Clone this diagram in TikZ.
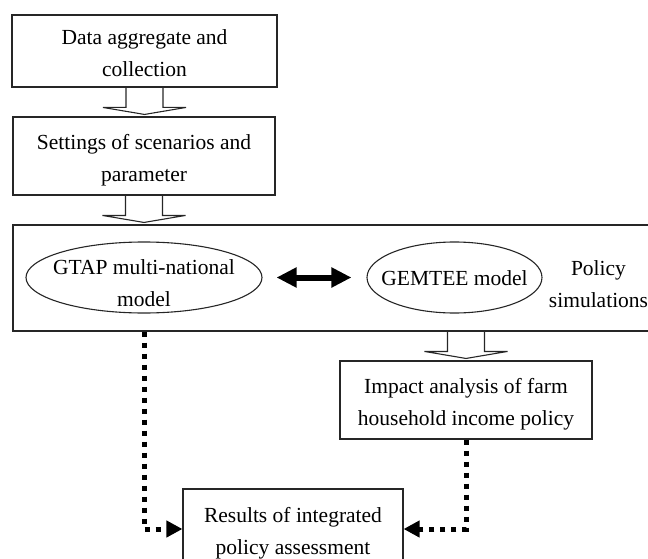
\documentclass[tikz,border=0pt]{standalone}
\usepackage{fontspec}
\setmainfont{Liberation Serif}
\usetikzlibrary{shapes.geometric,arrows.meta,calc}

\tikzset{
  box/.style={draw=black!85, line width=1.1pt, rectangle, align=center, inner sep=0pt,
    font=\fontsize{21.5pt}{32pt}\selectfont, text height=55pt, text depth=4.6pt},
  model/.style={draw=black!85, line width=1.1pt, ellipse, align=center, inner sep=-20pt,
    font=\fontsize{21.5pt}{32pt}\selectfont},
  hollow/.style={draw=black!85, line width=1.1pt, line join=miter},
  dotline/.style={line width=5pt, dash pattern=on 5pt off 6pt,
    -{Triangle[length=16pt,width=16pt]}},
  biarrow/.style={line width=6pt, {Triangle[length=20pt,width=19pt]}-{Triangle[length=20pt,width=19pt]},
    shorten <=14pt, shorten >=15pt}
}

% open block arrow going down from #1 to #2
\newcommand{\hollowarrow}[2]{%
  \draw[hollow] let \p1=#1, \p2=#2 in
    (\x1-18.5pt,\y1) -- (\x1-18.5pt,\y2+9pt) -- (\x1-41.5pt,\y2+9pt)
    -- (\x1,\y2+2pt) -- (\x1+41.5pt,\y2+9pt) -- (\x1+18.5pt,\y2+9pt)
    -- (\x1+18.5pt,\y1);}

\begin{document}
\begin{tikzpicture}[x=1pt,y=-1pt]
\useasboundingbox (0,0) rectangle (648,559);

%steps
\node[box, minimum width=265pt, minimum height=72pt] (data) at (144.5,51) {Data aggregate and\\collection};
\node[box, minimum width=262pt, minimum height=78pt] (setting) at (144,156) {Settings of scenarios and\\parameter};

%simulation block
\node[box, minimum width=650pt, minimum height=106pt, text height=0pt, text depth=0pt] (sim) at (338,278) {};
\node[model, minimum width=236pt, minimum height=71pt, text height=62pt, text depth=4.6pt] (gtap) at (144,277.5) {GTAP multi-national\\model};
\node[model, minimum width=175pt, minimum height=71pt, text height=20pt, text depth=4.6pt] (gemtee) at (454.5,277.5) {GEMTEE model};
\node[align=center, font=\fontsize{21.5pt}{32pt}\selectfont] (policy) at (598.5,284) {Policy\\simulations};
\draw[biarrow] (gtap) -- (gemtee);

%outputs
\node[box, minimum width=252pt, minimum height=78pt] (impact) at (466,400) {Impact analysis of farm\\household income policy};
\node[box, minimum width=220pt, minimum height=80pt] (results) at (293,529) {Results of integrated\\policy assessment};

\hollowarrow{(data.south)}{(setting.north)}
\hollowarrow{(setting.south)}{(setting.south |- sim.north)}
\hollowarrow{(impact.north |- sim.south)}{(impact.north)}

\draw[dotline] (gtap.center |- sim.south) |- (results.west);
\draw[dotline] (impact.south) |- (results.east);
\end{tikzpicture}
\end{document}
